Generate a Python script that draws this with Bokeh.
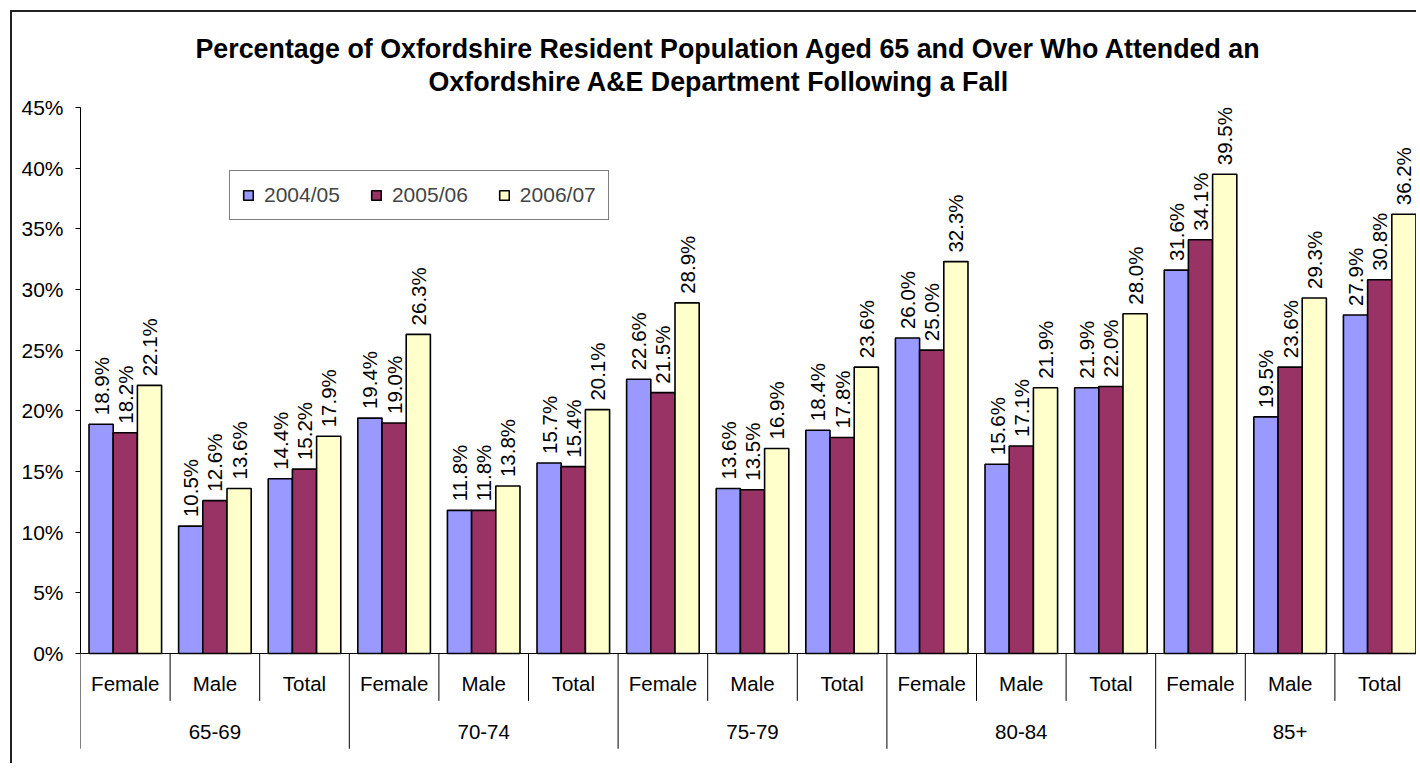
import numpy as np
from bokeh.plotting import figure
from bokeh.models import (ColumnDataSource, Range1d, FixedTicker, PrintfTickFormatter,
                          Title, Legend, LegendItem)
from bokeh.core.properties import value
from bokeh.embed import file_html
from bokeh.resources import INLINE

# ---------------- data ----------------
age_groups = ["65-69", "70-74", "75-79", "80-84", "85+"]
sexes = ["Female", "Male", "Total"]
years = ["2004/05", "2005/06", "2006/07"]
v_2004_05 = [18.9, 10.5, 14.4, 19.4, 11.8, 15.7, 22.6, 13.6, 18.4, 26.0, 15.6, 21.9, 31.6, 19.5, 27.9]
v_2005_06 = [18.2, 12.6, 15.2, 19.0, 11.8, 15.4, 21.5, 13.5, 17.8, 25.0, 17.1, 22.0, 34.1, 23.6, 30.8]
v_2006_07 = [22.1, 13.6, 17.9, 26.3, 13.8, 20.1, 28.9, 16.9, 23.6, 32.3, 21.9, 28.0, 39.5, 29.3, 36.2]
y_ticks = [0, 5, 10, 15, 20, 25, 30, 35, 40, 45]
title_line1 = "Percentage of Oxfordshire Resident Population Aged 65 and Over Who Attended an"
title_line2 = "Oxfordshire A&E Department Following a Fall"

series = [v_2004_05, v_2005_06, v_2006_07]
colors = ["#9999FF", "#993366", "#FFFFCC"]

FONT = value("Liberation Sans")
BAR_W = 0.27
SUB_LABEL_Y = -2.5
GROUP_LABEL_Y = -6.5
SUB_SEP_Y = -3.9
GROUP_SEP_Y = -7.85

n_cat = len(age_groups) * len(sexes)
cat_center = np.arange(n_cat) + 0.5
sub_names = [s for a in age_groups for s in sexes]

p = figure(width=1406, height=753, output_backend="svg", toolbar_location=None,
           x_axis_type=None, x_range=Range1d(0, 14.933), y_range=Range1d(-9.23, 45),
           min_border_left=68, min_border_top=95, min_border_right=0, min_border_bottom=0)
p.styles = {"margin-left": "10px", "margin-top": "10px",
            "border-left": "2px solid #222222", "border-top": "2px solid #222222"}
p.outline_line_color = None
p.xgrid.visible = False
p.ygrid.visible = False
p.background_fill_color = "white"
p.border_fill_color = "white"

# y axis
ax = p.yaxis[0]
ax.ticker = FixedTicker(ticks=y_ticks)
ax.formatter = PrintfTickFormatter(format="%d%%")
ax.bounds = (0, 45)
ax.axis_line_color = "black"
ax.major_tick_line_color = "black"
ax.major_tick_out = 5
ax.major_tick_in = 0
ax.minor_tick_out = 0
ax.minor_tick_in = 0
ax.major_label_text_font = "Liberation Sans"
ax.major_label_text_font_size = "21px"
ax.major_label_text_color = "black"
ax.major_label_standoff = 12

# bars
items = []
for k, (vals, col, yr) in enumerate(zip(series, colors, years)):
    xs = cat_center + (k - 1) * BAR_W
    src = ColumnDataSource(dict(x=xs, top=vals, lab=[f"{v:.1f}%" for v in vals]))
    r = p.vbar(x="x", top="top", bottom=0, width=BAR_W, source=src,
               fill_color=col, line_color="black", line_width=1.6)
    items.append(LegendItem(label=yr, renderers=[r]))
    p.text(x="x", y="top", text="lab", source=src, angle=np.pi / 2,
           text_align="left", text_baseline="middle", y_offset=-9,
           text_font=FONT, text_font_size="20.5px", text_color="black")

# category axis (drawn in data space below zero)
p.segment(x0=[0], y0=[0], x1=[n_cat], y1=[0], line_color="black", line_width=1)
bounds = np.arange(n_cat + 1)
depth = [GROUP_SEP_Y if b % len(sexes) == 0 else SUB_SEP_Y for b in bounds]
p.segment(x0=bounds, y0=np.zeros(len(bounds)), x1=bounds, y1=depth,
          line_color="black", line_width=1)
p.text(x=cat_center, y=[SUB_LABEL_Y] * n_cat, text=sub_names,
       text_align="center", text_baseline="middle",
       text_font=FONT, text_font_size="20.5px", text_color="black")
grp_center = np.arange(len(age_groups)) * len(sexes) + len(sexes) / 2
p.text(x=grp_center, y=[GROUP_LABEL_Y] * len(age_groups), text=age_groups,
       text_align="center", text_baseline="middle",
       text_font=FONT, text_font_size="20.5px", text_color="black")

# legend
leg = Legend(items=items, orientation="horizontal", location=(149, 545),
             label_text_font="Liberation Sans", label_text_font_size="21px",
             glyph_width=12, glyph_height=12, label_standoff=10, spacing=30,
             padding=12, margin=0, border_line_color="black", border_line_width=1,
             background_fill_color="white", background_fill_alpha=1)
p.add_layout(leg, "center")

# titles (stacked outward from the plot frame: spacer, line 2, line 1)
p.add_layout(Title(text=" ", text_font_size="1px", standoff=7), "above")
p.add_layout(Title(text=title_line2, align="left", offset=348, text_font="Liberation Sans",
                   text_font_size="26.8px", text_font_style="bold", text_color="black",
                   standoff=2), "above")
p.add_layout(Title(text=title_line1, align="left", offset=115, text_font="Liberation Sans",
                   text_font_size="26.8px", text_font_style="bold", text_color="black",
                   standoff=0), "above")

open("out.html", "w").write(file_html(p, INLINE))
